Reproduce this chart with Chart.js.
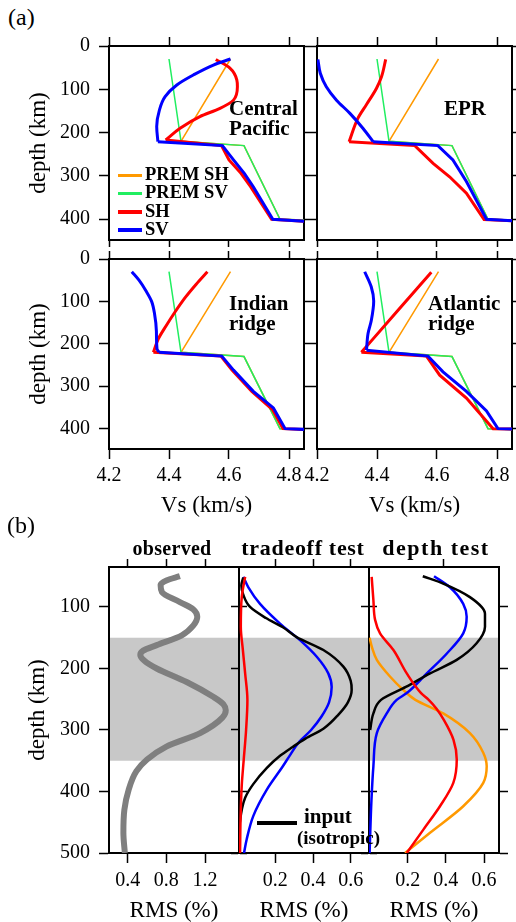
<!DOCTYPE html>
<html>
<head>
<meta charset="utf-8">
<script src="https://cdn.jsdelivr.net/npm/chart.js@4.4.1/dist/chart.umd.min.js"></script>
<style>
  body { margin: 0; width: 516px; height: 922px; background: #fff; position: relative; overflow: hidden;
         font-family: 'Liberation Serif', 'Times New Roman', serif; color: #000; }
  .pane { position: absolute; }
  .txt { position: absolute; white-space: nowrap; z-index: 2; }
  .bold { font-weight: bold; }
  .key { position: absolute; z-index: 2; }
</style>
</head>
<body>
<div class="txt" style="left:8px;top:5px;font-size:24px;line-height:24px">(a)</div>
<div class="txt" style="left:7px;top:513px;font-size:24px;line-height:24px">(b)</div>

<div class="txt bold" style="left:229px;top:98px;font-size:21px;line-height:20px">Central<br>Pacific</div>
<div class="txt bold" style="left:444px;top:98px;font-size:21px;line-height:20px">EPR</div>
<div class="txt bold" style="left:229px;top:293px;font-size:21px;line-height:20px">Indian<br>ridge</div>
<div class="txt bold" style="left:428px;top:293px;font-size:21px;line-height:20px">Atlantic<br>ridge</div>

<div class="txt bold" style="left:92px;width:160px;text-align:center;top:538px;font-size:20px;line-height:20px;letter-spacing:0.3px">observed</div>
<div class="txt bold" style="left:223px;width:160px;text-align:center;top:537px;font-size:22px;line-height:22px;letter-spacing:0.7px">tradeoff test</div>
<div class="txt bold" style="left:356px;width:160px;text-align:center;top:537px;font-size:22px;line-height:22px;letter-spacing:1.5px">depth test</div>

<div class="key" style="left:257px;top:821px;width:40px;height:3.5px;background:#000"></div>
<div class="txt bold" style="left:304px;top:806px;font-size:21px;line-height:21px">input</div>
<div class="txt bold" style="left:297px;top:828px;font-size:19px;line-height:19px">(isotropic)</div>

<script>
// (a) shear velocity profiles, points are [Vs (km/s), depth (km)]
const premSH = [[4.605, 30], [4.44, 220], [4.65, 230], [4.77, 400], [4.86, 402]];
const premSV = [[4.40, 30], [4.44, 220], [4.65, 230], [4.77, 400], [4.86, 402]];

const pacificSH = [[4.556, 31], [4.603, 51], [4.626, 78], [4.628, 94], [4.615, 125], [4.57, 144], [4.503, 163],
  [4.437, 190], [4.389, 217], [4.575, 230], [4.60, 263], [4.64, 294], [4.672, 325], [4.742, 400], [4.86, 405]];
const pacificSV = [[4.605, 30], [4.548, 44], [4.481, 67], [4.426, 90], [4.387, 117], [4.368, 148], [4.359, 186],
  [4.363, 221], [4.578, 230], [4.615, 263], [4.651, 294], [4.681, 325], [4.746, 400], [4.86, 405]];

const eprSH = [[4.429, 31], [4.415, 71], [4.398, 98], [4.365, 135], [4.337, 166], [4.307, 221], [4.526, 230],
  [4.587, 271], [4.642, 302], [4.698, 340], [4.757, 401], [4.86, 404]];
const eprSV = [[4.203, 31], [4.211, 63], [4.231, 94], [4.265, 125], [4.309, 155], [4.353, 190], [4.387, 221],
  [4.603, 230], [4.653, 263], [4.698, 313], [4.765, 400], [4.86, 404]];

const indianSH = [[4.528, 30], [4.49, 60], [4.455, 90], [4.42, 125], [4.39, 158], [4.364, 189], [4.348, 220],
  [4.573, 229], [4.61, 262], [4.676, 312], [4.745, 355], [4.78, 400], [4.86, 402]];
const indianSV = [[4.276, 30], [4.30, 50], [4.323, 75], [4.342, 100], [4.352, 130], [4.358, 170], [4.36, 212],
  [4.367, 220], [4.576, 229], [4.615, 262], [4.681, 312], [4.748, 351], [4.787, 400], [4.86, 402]];

const atlanticSH = [[4.581, 31], [4.465, 125], [4.348, 220], [4.565, 229], [4.609, 274], [4.698, 328],
  [4.787, 400], [4.86, 401]];
const atlanticSV = [[4.359, 30], [4.381, 66], [4.389, 99], [4.381, 145], [4.37, 176], [4.365, 215], [4.57, 229],
  [4.62, 266], [4.698, 312], [4.765, 358], [4.803, 400], [4.86, 401]];

const vsTicks = [4.2, 4.4, 4.6, 4.8];
const depthTicksA = [0, 100, 200, 300, 400];
const legendLabels = ['PREM SH', 'PREM SV', 'SH', 'SV'];
const stepDepth = 225; // the 220-230 km jump, drawn with straight segments

// (b) RMS anisotropy, points are [RMS (%), depth (km)]
const observed = [[0.94, 50], [0.80, 57], [0.74, 64], [0.755, 76], [0.94, 92], [1.08, 104], [1.12, 116],
  [1.08, 130], [0.96, 146], [0.70, 162], [0.56, 171], [0.53, 178], [0.57, 187], [0.70, 200], [1.01, 222],
  [1.285, 246], [1.39, 258], [1.415, 268], [1.38, 280], [1.15, 305], [0.80, 327], [0.60, 348], [0.49, 367],
  [0.41, 397], [0.365, 430], [0.355, 467], [0.37, 500]];

const tradeoffInput = [[0.03, 52], [0.02, 65], [0.03, 80], [0.066, 100], [0.15, 118], [0.24, 133], [0.313, 149],
  [0.455, 170], [0.561, 197], [0.60, 220], [0.605, 235], [0.585, 255], [0.535, 275], [0.455, 298], [0.36, 314],
  [0.29, 328], [0.225, 342], [0.154, 362], [0.083, 388], [0.04, 410], [0.022, 430], [0.012, 450]];
const tradeoffSH = [[0.04, 51], [0.022, 84], [0.017, 132], [0.028, 170], [0.04, 208], [0.052, 251], [0.045, 300],
  [0.032, 350], [0.022, 390], [0.016, 440], [0.013, 500]];
const tradeoffSV = [[0.03, 51], [0.057, 68], [0.119, 95], [0.225, 127], [0.331, 154], [0.42, 181], [0.481, 208],
  [0.499, 230], [0.485, 255], [0.445, 278], [0.39, 300], [0.325, 320], [0.28, 340], [0.24, 359], [0.155, 397],
  [0.083, 440], [0.048, 478], [0.034, 500]];

const depthInput = [[0.279, 50], [0.386, 62], [0.526, 84], [0.605, 111], [0.605, 132], [0.561, 159], [0.457, 186],
  [0.317, 208], [0.19, 230], [0.06, 251], [0.02, 273], [0.003, 300]];
const depthSH = [[0.011, 51], [0.02, 89], [0.029, 121], [0.055, 143], [0.125, 170], [0.195, 208], [0.27, 240],
  [0.31, 251], [0.35, 265], [0.39, 284], [0.44, 316], [0.457, 348], [0.439, 386], [0.369, 424], [0.282, 462],
  [0.195, 500]];
const depthSV = [[0.338, 50], [0.421, 68], [0.491, 95], [0.509, 116], [0.491, 143], [0.404, 176], [0.30, 208],
  [0.195, 240], [0.142, 251], [0.09, 273], [0.038, 305], [0.02, 359], [0.01, 413], [0.0, 500]];
const depthTestOrange = [[0.0, 150], [0.012, 165], [0.038, 186], [0.107, 213], [0.177, 235], [0.24, 251],
  [0.386, 273], [0.526, 305], [0.596, 337], [0.614, 359], [0.596, 386], [0.491, 424], [0.317, 467], [0.186, 500]];

const bandDepth = [150, 350];
const depthTicksB = [100, 200, 300, 400, 500];
const observedTicks = [0.4, 0.8, 1.2];
const rmsTicks = [0.2, 0.4, 0.6];
const depthTestTopTicks = [0.39];

// styling
const serif = "'Liberation Serif', 'Times New Roman', serif";
const colors = { premSH: '#ff9900', premSV: '#20ee60', sh: '#ff0000', sv: '#0000ff', input: '#000000', obs: '#7f7f7f' };

function line(pts, color, width, smooth) {
  return {
    data: pts.map(p => ({ x: p[0], y: p[1] })),
    borderColor: color,
    borderWidth: width,
    pointRadius: 0,
    fill: false,
    tension: 0,
    cubicInterpolationMode: smooth ? 'monotone' : 'default'
  };
}

function scale(pos, range, ticks, size, o = {}) {
  const horiz = pos === 'top' || pos === 'bottom';
  return {
    type: 'linear',
    position: pos,
    min: range[0],
    max: range[1],
    reverse: !!o.reverse,
    bounds: 'data',
    afterBuildTicks: s => { s.ticks = ticks.map(v => ({ value: v })); },
    afterFit: s => {
      // fixed axis boxes, so every plot area lands where it should
      if (horiz) s.height = size; else s.width = size;
      s.paddingTop = s.paddingBottom = s.paddingLeft = s.paddingRight = 0;
    },
    grid: { drawOnChartArea: false, drawTicks: ticks.length > 0, tickLength: o.tick || 8, tickColor: '#000', tickWidth: 1.5 },
    border: { display: true, color: '#000', width: 2 },
    ticks: { display: !!o.labels, color: '#000', padding: o.pad || 0, font: { family: serif, size: 20 }, maxRotation: 0, autoSkip: false },
    title: o.title
      ? { display: true, text: o.title, color: '#000', font: { family: serif, size: 23, lineHeight: o.titleLH || 1.2 }, padding: o.titlePad }
      : { display: false }
  };
}

const bandPlugin = {
  id: 'band',
  beforeDraw(chart) {
    const { ctx, chartArea: a, scales: { y } } = chart;
    const top = y.getPixelForValue(bandDepth[0]);
    const bottom = y.getPixelForValue(bandDepth[1]);
    ctx.save();
    ctx.fillStyle = '#c8c8c8';
    ctx.fillRect(a.left, top, a.right - a.left, bottom - top);
    ctx.restore();
  }
};

function panel(box, pad, datasets, scales, plugins = []) {
  const w = box.w + pad[0] + pad[2];
  const h = box.h + pad[1] + pad[3];
  const canvas = document.createElement('canvas');
  canvas.className = 'pane';
  canvas.width = w;
  canvas.height = h;
  canvas.style.left = (box.x - pad[0]) + 'px';
  canvas.style.top = (box.y - pad[1]) + 'px';
  canvas.style.width = w + 'px';
  canvas.style.height = h + 'px';
  document.body.append(canvas);

  return new Chart(canvas, {
    type: 'line',
    data: { datasets },
    options: {
      indexAxis: 'y',
      responsive: false,
      animation: false,
      devicePixelRatio: 1,
      layout: { padding: 0, autoPadding: false },
      plugins: { legend: { display: false }, tooltip: { enabled: false } },
      scales
    },
    plugins
  });
}

// ---- (a) ----
const vsRange = [4.2, 4.85];
const depthRangeA = [0, 448];

function profileLines(pts, color, width) {
  const upper = pts.filter(p => p[1] < stepDepth);
  const lower = [upper[upper.length - 1], ...pts.filter(p => p[1] > stepDepth)];
  return [line(upper, color, width, true), line(lower, color, width, false)];
}

function profileSets(sh, sv) {
  // first dataset ends up on top
  return [
    ...profileLines(sv, colors.sv, 3),
    ...profileLines(sh, colors.sh, 3),
    line(premSV, colors.premSV, 1.5, false),
    line(premSH, colors.premSH, 1.5, false)
  ];
}

function profileScales(left, bottom) {
  return {
    x: bottom
      ? scale('bottom', vsRange, vsTicks, 73, { tick: 10, labels: true, pad: 5, title: 'Vs (km/s)', titlePad: { bottom: 2 } })
      : scale('bottom', vsRange, vsTicks, 7, { tick: 7 }),
    x2: scale('top', vsRange, vsTicks, 12, { tick: bottom ? 8 : 9 }),
    y: left
      ? scale('left', depthRangeA, depthTicksA, 109, { reverse: true, tick: 10, labels: true, pad: 9, title: 'depth (km)', titlePad: { top: 25 } })
      : scale('left', depthRangeA, depthTicksA, 16, { reverse: true, tick: 7 }),
    y2: left
      ? scale('right', depthRangeA, depthTicksA, 6, { reverse: true, tick: 6 })
      : scale('right', depthRangeA, depthTicksA, 4, { reverse: true, tick: 4 })
  };
}

panel({ x: 109, y: 46, w: 195, h: 194 }, [109, 12, 6, 7], profileSets(pacificSH, pacificSV), profileScales(true, false));
panel({ x: 317, y: 46, w: 195, h: 194 }, [16, 12, 4, 7], profileSets(eprSH, eprSV), profileScales(false, false));
panel({ x: 109, y: 255, w: 195, h: 194 }, [109, 8, 6, 73], profileSets(indianSH, indianSV), profileScales(true, true));
panel({ x: 317, y: 255, w: 195, h: 194 }, [16, 8, 4, 73], profileSets(atlanticSH, atlanticSV), profileScales(false, true));

// legend in the Central Pacific panel
const legendColors = [colors.premSH, colors.premSV, colors.sh, colors.sv];
legendLabels.forEach((label, i) => {
  const cy = 175.3 + i * 18.3;
  const key = document.createElement('div');
  key.className = 'key';
  key.style.cssText = `left:118px;top:${cy - 1.75}px;width:24px;height:3.5px;background:${legendColors[i]}`;
  const txt = document.createElement('div');
  txt.className = 'txt bold';
  txt.style.cssText = `left:145px;top:${cy - 10.2}px;font-size:18.5px;line-height:18px`;
  txt.textContent = label;
  document.body.append(key, txt);
});

// ---- (b) ----
const depthRangeB = [35, 500];

function rmsScales(range, topTicks, opts) {
  return {
    x: scale('bottom', range, opts.bottomTicks, 69, { tick: 10, labels: true, pad: 6, title: 'RMS (%)', titleLH: 1, titlePad: { bottom: 0 } }),
    x2: scale('top', range, topTicks, 12, { tick: 8 }),
    y: opts.left
      ? scale('left', depthRangeB, depthTicksB, 109, { reverse: true, tick: 10, labels: true, pad: 9, title: 'depth (km)', titlePad: { top: 24 } })
      : scale('left', depthRangeB, depthTicksB, 8, { reverse: true, tick: 8 }),
    y2: scale('right', depthRangeB, depthTicksB, opts.right, { reverse: true, tick: opts.right === 8 ? 8 : 9 })
  };
}

panel({ x: 109, y: 567, w: 130, h: 286 }, [109, 12, 8, 69],
  [line(observed, colors.obs, 6, true)],
  rmsScales([0.206, 1.552], observedTicks, { bottomTicks: observedTicks, left: true, right: 8 }),
  [bandPlugin]);

panel({ x: 239, y: 567, w: 130, h: 286 }, [8, 12, 8, 69],
  [line(tradeoffSH, colors.sh, 2.5, true), line(tradeoffInput, colors.input, 2.5, true), line(tradeoffSV, colors.sv, 2.5, true)],
  rmsScales([0.0074, 0.697], rmsTicks, { bottomTicks: rmsTicks, left: false, right: 8 }),
  [bandPlugin]);

panel({ x: 369, y: 567, w: 130, h: 286 }, [8, 12, 17, 69],
  [line(depthSH, colors.sh, 2.5, true), line(depthInput, colors.input, 2.5, true), line(depthSV, colors.sv, 2.5, true),
   line(depthTestOrange, colors.premSH, 2.5, true)],
  rmsScales([-0.003, 0.6785], depthTestTopTicks, { bottomTicks: rmsTicks, left: false, right: 17 }),
  [bandPlugin]);
</script>
</body>
</html>
